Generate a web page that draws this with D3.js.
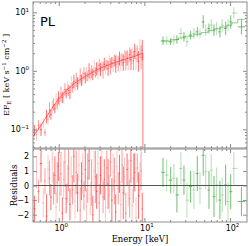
<!DOCTYPE html>
<html>
<head>
<meta charset="utf-8">
<script src="https://cdn.jsdelivr.net/npm/d3@7"></script>
<style>
body{margin:0;background:#fff;}
text{fill:#000;}
</style>
</head>
<body>
<svg id="canvas"></svg>
<script>
// low energy spectrum (red)
let redE = [0.52,0.55,0.58,0.62,0.66,0.69,0.72,0.75,0.78,0.81,0.84,0.87,0.90,0.93,0.96,0.99,
  1.02,1.06,1.10,1.14,1.18,1.22,1.26,1.30,1.35,1.40,1.45,1.50,1.55,1.60,1.66,1.72,1.78,1.84,1.90,1.97,
  2.04,2.11,2.18,2.26,2.34,2.42,2.50,2.59,2.68,2.77,2.87,2.97,
  3.07,3.18,3.29,3.40,3.52,3.64,3.77,3.90,4.03,4.17,4.32,4.47,4.62,4.78,4.95,
  5.12,5.30,5.48,5.67,5.87,6.07,6.28,6.50,6.73,6.96,7.20,7.45,7.71,7.98,8.26,8.55,8.85,9.15,9.45];
let redF = [0.095,0.082,0.118,0.098,0.128,0.088,0.165,0.150,0.215,0.178,0.240,0.265,0.225,0.310,0.270,0.345,
  0.300,0.400,0.350,0.370,0.480,0.410,0.500,0.460,0.430,0.600,0.520,0.650,0.560,0.700,0.610,0.640,0.820,0.690,0.740,0.900,
  0.760,0.880,0.800,1.000,0.850,0.960,0.870,1.120,0.940,1.080,0.980,1.250,
  1.050,1.180,1.020,1.300,1.150,1.250,1.100,1.420,1.200,1.380,1.260,1.500,1.300,1.450,1.320,
  1.620,1.400,1.550,1.380,1.750,1.480,1.650,1.420,1.900,1.550,1.800,1.500,2.150,1.600,1.950,1.450,2.400,1.700,2.250];
let redErr = [0.25,0.30,0.22,0.28,0.20,0.15,0.30,0.25,0.35,0.22,0.30,0.28,0.20,0.32,0.25,0.30,
  0.22,0.35,0.25,0.30,0.28,0.20,0.32,0.25,0.30,0.35,0.22,0.30,0.25,0.33,0.28,0.20,0.35,0.25,0.30,0.28,
  0.25,0.32,0.22,0.35,0.28,0.30,0.25,0.38,0.22,0.30,0.35,0.28,
  0.30,0.25,0.40,0.28,0.32,0.22,0.35,0.30,0.38,0.25,0.32,0.28,0.40,0.30,0.35,
  0.32,0.42,0.28,0.38,0.30,0.45,0.35,0.40,0.32,0.50,0.38,0.45,0.35,0.55,0.40,0.50,0.45,0.60,0.50];
let redRes = [-1.6,0.9,-0.4,1.5,-1.2,0.3,-2.1,1.1,0.5,-0.8,1.8,-0.2,0.7,-1.5,0.2,1.3,
  -0.6,0.8,-1.9,0.4,1.6,-0.9,0.1,1.2,-1.3,0.6,-0.3,2.0,-1.1,0.9,-0.5,1.4,-1.7,0.3,0.8,-0.7,
  1.1,-1.4,0.5,1.7,-0.9,0.2,-2.0,1.0,0.6,-0.4,1.5,-1.2,
  0.7,1.9,-0.8,0.4,-1.5,1.2,0.1,-0.6,1.6,-1.0,0.9,0.3,-1.8,1.3,-0.2,
  0.8,-1.3,1.4,-0.5,0.6,-1.9,1.1,0.2,-0.9,1.7,-1.4,0.5,0.9,-2.2,1.2,-0.7,0.4,1.0,-1.6];
let redResErr = [0.9,1.1,0.8,1.3,1.0,0.9,1.5,1.0,1.2,0.9,1.6,1.1,1.3,1.0,1.4,1.0,
  1.2,1.5,1.1,1.3,1.7,1.0,1.3,1.6,1.1,1.4,1.0,1.8,1.2,1.5,1.3,1.1,1.6,1.3,1.4,1.0,
  1.5,1.2,1.7,1.3,1.1,1.6,1.3,1.4,1.8,1.2,1.5,1.3,
  1.3,1.6,1.1,1.4,1.6,1.2,1.7,1.3,1.0,1.5,1.3,1.6,1.2,1.4,1.1,
  1.3,1.6,1.2,1.8,1.3,1.4,1.1,1.6,1.3,1.5,1.2,1.7,1.3,1.4,1.0,1.6,1.2,1.3,1.1];

// high energy spectrum (green)
let greenE = [16.5,18.2,20.3,22.1,24.0,26.7,29.0,31.4,34.7,37.9,41.5,44.6,48.7,52.0,56.8,60.4,65.0,69.8,76.3,81.2,89.0,94.8,102,111,136];
let greenF = [3.26,3.30,3.14,3.35,3.44,4.35,3.81,3.14,4.07,4.35,4.63,4.35,6.85,4.95,5.29,6.03,4.95,5.29,4.63,6.03,5.29,6.03,6.85,9.73,5.63];
let greenErr = [0.18,0.20,0.15,0.22,0.18,0.25,0.20,0.22,0.18,0.25,0.20,0.22,0.30,0.25,0.22,0.28,0.25,0.30,0.25,0.28,0.30,0.27,0.30,0.25,0.35];
let greenRes = [0.9,0.7,0.37,0.5,-0.65,1.17,0.37,-1.0,-0.08,-0.3,0.83,-0.19,2.07,0.94,-0.3,1.05,-0.76,0.03,-1.0,-0.65,0.03,-1.1,-0.42,1.17,-1.1];
let greenResErr = [1.0,1.1,0.9,1.0,1.2,1.1,1.0,1.2,1.1,1.3,1.2,1.1,1.4,1.2,1.3,1.1,1.4,1.2,1.3,1.2,1.4,1.3,1.2,1.1,1.0];

// power-law model
let modelRedE = [0.5,0.6,0.7,0.8,0.9,1.0,1.2,1.5,2.0,2.5,3.0,4.0,5.0,6.0,7.5,9.6,9.6];
let modelRedF = [0.075,0.11,0.155,0.21,0.27,0.33,0.45,0.6,0.8,0.95,1.1,1.3,1.45,1.58,1.75,2.0,0.001];
let modelGreenE = [15.8,20,25,30,38,46,55,65,78,92,105,123,150];
let modelGreenF = [3.2,3.4,3.65,3.9,4.2,4.5,4.85,5.2,5.6,6.0,6.6,7.6,7.6];

let xTicks = [1,10,100];
let yTopTicks = [0.1,1,10];
let yResTicks = [-2,-1,0,1,2];

let width = 249;
let height = 246;
let left = 33, right = 247;
let topY0 = 2, topY1 = 148, resY0 = 149, resY1 = 222;
let grey = "#8c8c8c";
let red = "#ff1f1f";
let green = "#4caf4c";

let canvas = d3.select("#canvas").attr("width",width).attr("height",height);

let xScale = d3.scaleLog().domain([0.5,158]).range([left,right]);
let yTop = d3.scaleLog().domain([0.048,15]).range([topY1,topY0]);
let yRes = d3.scaleLinear().domain([-2.5,2.5]).range([resY1,resY0]);

let defs = canvas.append("defs");
defs.append("clipPath").attr("id","clipTop").append("rect")
    .attr("x",left).attr("y",topY0).attr("width",right-left).attr("height",topY1-topY0);
defs.append("clipPath").attr("id","clipRes").append("rect")
    .attr("x",left).attr("y",resY0).attr("width",right-left).attr("height",resY1-resY0);

let binEdges = (E) =>{
    return E.map((e,i)=>{
        let lo = i>0 ? Math.sqrt(E[i-1]*e) : e*e/Math.sqrt(E[i+1]*e);
        let hi = i<E.length-1 ? Math.sqrt(E[i+1]*e) : e*e/Math.sqrt(E[i-1]*e);
        return [lo,hi];
    });
}

let drawPoints = (g, E, yv, ylo, yhi, yScale, color, alphas) =>{
    let edges = binEdges(E);
    E.forEach((e,i)=>{
        let a = alphas[i%alphas.length];
        g.append("line")
         .attr("x1",xScale(e)).attr("x2",xScale(e))
         .attr("y1",yScale(ylo[i])).attr("y2",yScale(yhi[i]))
         .attr("stroke",color).attr("stroke-opacity",a).attr("stroke-width",1);
        g.append("line")
         .attr("x1",xScale(edges[i][0])).attr("x2",xScale(edges[i][1]))
         .attr("y1",yScale(yv[i])).attr("y2",yScale(yv[i]))
         .attr("stroke",color).attr("stroke-opacity",a).attr("stroke-width",1);
    });
}

// upper panel
let gTop = canvas.append("g").attr("clip-path","url(#clipTop)");
drawPoints(gTop, redE, redF, redF.map((f,i)=>f/(1+redErr[i])), redF.map((f,i)=>f*(1+redErr[i])), yTop, red, [0.65,0.25,0.45]);
drawPoints(gTop, greenE, greenF, greenF.map((f,i)=>f/(1+greenErr[i])), greenF.map((f,i)=>f*(1+greenErr[i])), yTop, green, [0.8,0.4]);

let modelLine = d3.line().x(d=>xScale(d[0])).y(d=>yTop(d[1]));
gTop.append("path")
    .attr("d",modelLine(modelRedE.map((e,i)=>[e,modelRedF[i]])))
    .attr("fill","none").attr("stroke",red).attr("stroke-width",1).attr("stroke-opacity",0.6);
gTop.append("path")
    .attr("d",modelLine.curve(d3.curveStepAfter)(modelGreenE.map((e,i)=>[e,modelGreenF[i]])))
    .attr("fill","none").attr("stroke",green).attr("stroke-width",1).attr("stroke-opacity",0.6);

// residual panel
let gRes = canvas.append("g").attr("clip-path","url(#clipRes)");
drawPoints(gRes, redE, redRes, redRes.map((r,i)=>r-redResErr[i]), redRes.map((r,i)=>r+redResErr[i]), yRes, red, [0.65,0.25,0.45]);
drawPoints(gRes, greenE, greenRes, greenRes.map((r,i)=>r-greenResErr[i]), greenRes.map((r,i)=>r+greenResErr[i]), yRes, green, [0.8,0.4]);
canvas.append("line")
      .attr("x1",left).attr("x2",right).attr("y1",yRes(0)).attr("y2",yRes(0))
      .attr("stroke","#555").attr("stroke-width",1);

// axes
let styleAxis = (g) =>{
    g.select(".domain").remove();
    g.selectAll(".tick line").attr("stroke",grey);
    g.selectAll("text").attr("font-family","DejaVu Sans").attr("font-size",8).attr("fill","#000");
}

let powLabel = (sel) =>{
    sel.each(function(d){
        let t = d3.select(this);
        let p = Math.round(Math.log10(d));
        t.text("10");
        t.append("tspan").attr("dy",-3.5).attr("font-size",5.5).text(p<0 ? "\u2212"+(-p) : p);
    });
}

let xMinor = xScale.ticks().filter(d=>!xTicks.includes(d));
let yMinor = yTop.ticks().filter(d=>!yTopTicks.some(t=>Math.abs(t-d)<1e-9));

let addX = (y, axisFn, labels) =>{
    canvas.append("g").attr("transform","translate(0,"+y+")")
          .call(axisFn(xScale).tickValues(xMinor).tickSize(-2).tickSizeOuter(0).tickFormat(""))
          .call(styleAxis);
    let g = canvas.append("g").attr("transform","translate(0,"+y+")")
          .call(axisFn(xScale).tickValues(xTicks).tickSize(-4).tickSizeOuter(0).tickPadding(3).tickFormat(labels ? d=>d : ""))
          .call(styleAxis);
    if(labels) g.selectAll(".tick text").call(powLabel).attr("x",2);
}
addX(topY1, d3.axisBottom, false);
addX(topY0, d3.axisTop, false);
addX(resY1, d3.axisBottom, true);
addX(resY0, d3.axisTop, false);

let addY = (x, axisFn, scale, major, minor, labels, fmt) =>{
    if(minor){
        canvas.append("g").attr("transform","translate("+x+",0)")
              .call(axisFn(scale).tickValues(minor).tickSize(-2).tickSizeOuter(0).tickFormat(""))
              .call(styleAxis);
    }
    let g = canvas.append("g").attr("transform","translate("+x+",0)")
          .call(axisFn(scale).tickValues(major).tickSize(-4).tickSizeOuter(0).tickPadding(4).tickFormat(labels ? fmt : ""))
          .call(styleAxis);
    return g;
}
let gyl = addY(left, d3.axisLeft, yTop, yTopTicks, yMinor, true, d=>d);
gyl.selectAll(".tick text").call(powLabel);
addY(right, d3.axisRight, yTop, yTopTicks, yMinor, false);
addY(left, d3.axisLeft, yRes, yResTicks, null, true, d=> d<0 ? "\u2212"+(-d) : d);
addY(right, d3.axisRight, yRes, yResTicks, null, false);

// frames
canvas.append("rect").attr("x",left).attr("y",topY0).attr("width",right-left).attr("height",topY1-topY0)
      .attr("fill","none").attr("stroke",grey).attr("stroke-width",1);
canvas.append("rect").attr("x",left).attr("y",resY0).attr("width",right-left).attr("height",resY1-resY0)
      .attr("fill","none").attr("stroke",grey).attr("stroke-width",1);

// labels
canvas.append("text").attr("x",40).attr("y",26)
      .attr("font-family","DejaVu Sans").attr("font-size",13).text("PL");

let ylab = canvas.append("text")
      .attr("transform","translate(9,75) rotate(-90)")
      .attr("text-anchor","middle")
      .attr("font-family","DejaVu Serif").attr("font-size",8);
ylab.append("tspan").text("EF");
ylab.append("tspan").attr("dy",2).attr("font-size",5.5).text("E");
ylab.append("tspan").attr("dy",-2).text(" [ keV s");
ylab.append("tspan").attr("dy",-3).attr("font-size",5.5).text("\u22121");
ylab.append("tspan").attr("dy",3).text(" cm");
ylab.append("tspan").attr("dy",-3).attr("font-size",5.5).text("\u22122");
ylab.append("tspan").attr("dy",3).text(" ]");

canvas.append("text")
      .attr("transform","translate(17,185.5) rotate(-90)")
      .attr("text-anchor","middle")
      .attr("font-family","DejaVu Serif").attr("font-size",8.5)
      .text("Residuals");

canvas.append("text").attr("x",140).attr("y",242)
      .attr("text-anchor","middle")
      .attr("font-family","DejaVu Serif").attr("font-size",8.5)
      .text("Energy [keV]");
</script>
</body>
</html>
